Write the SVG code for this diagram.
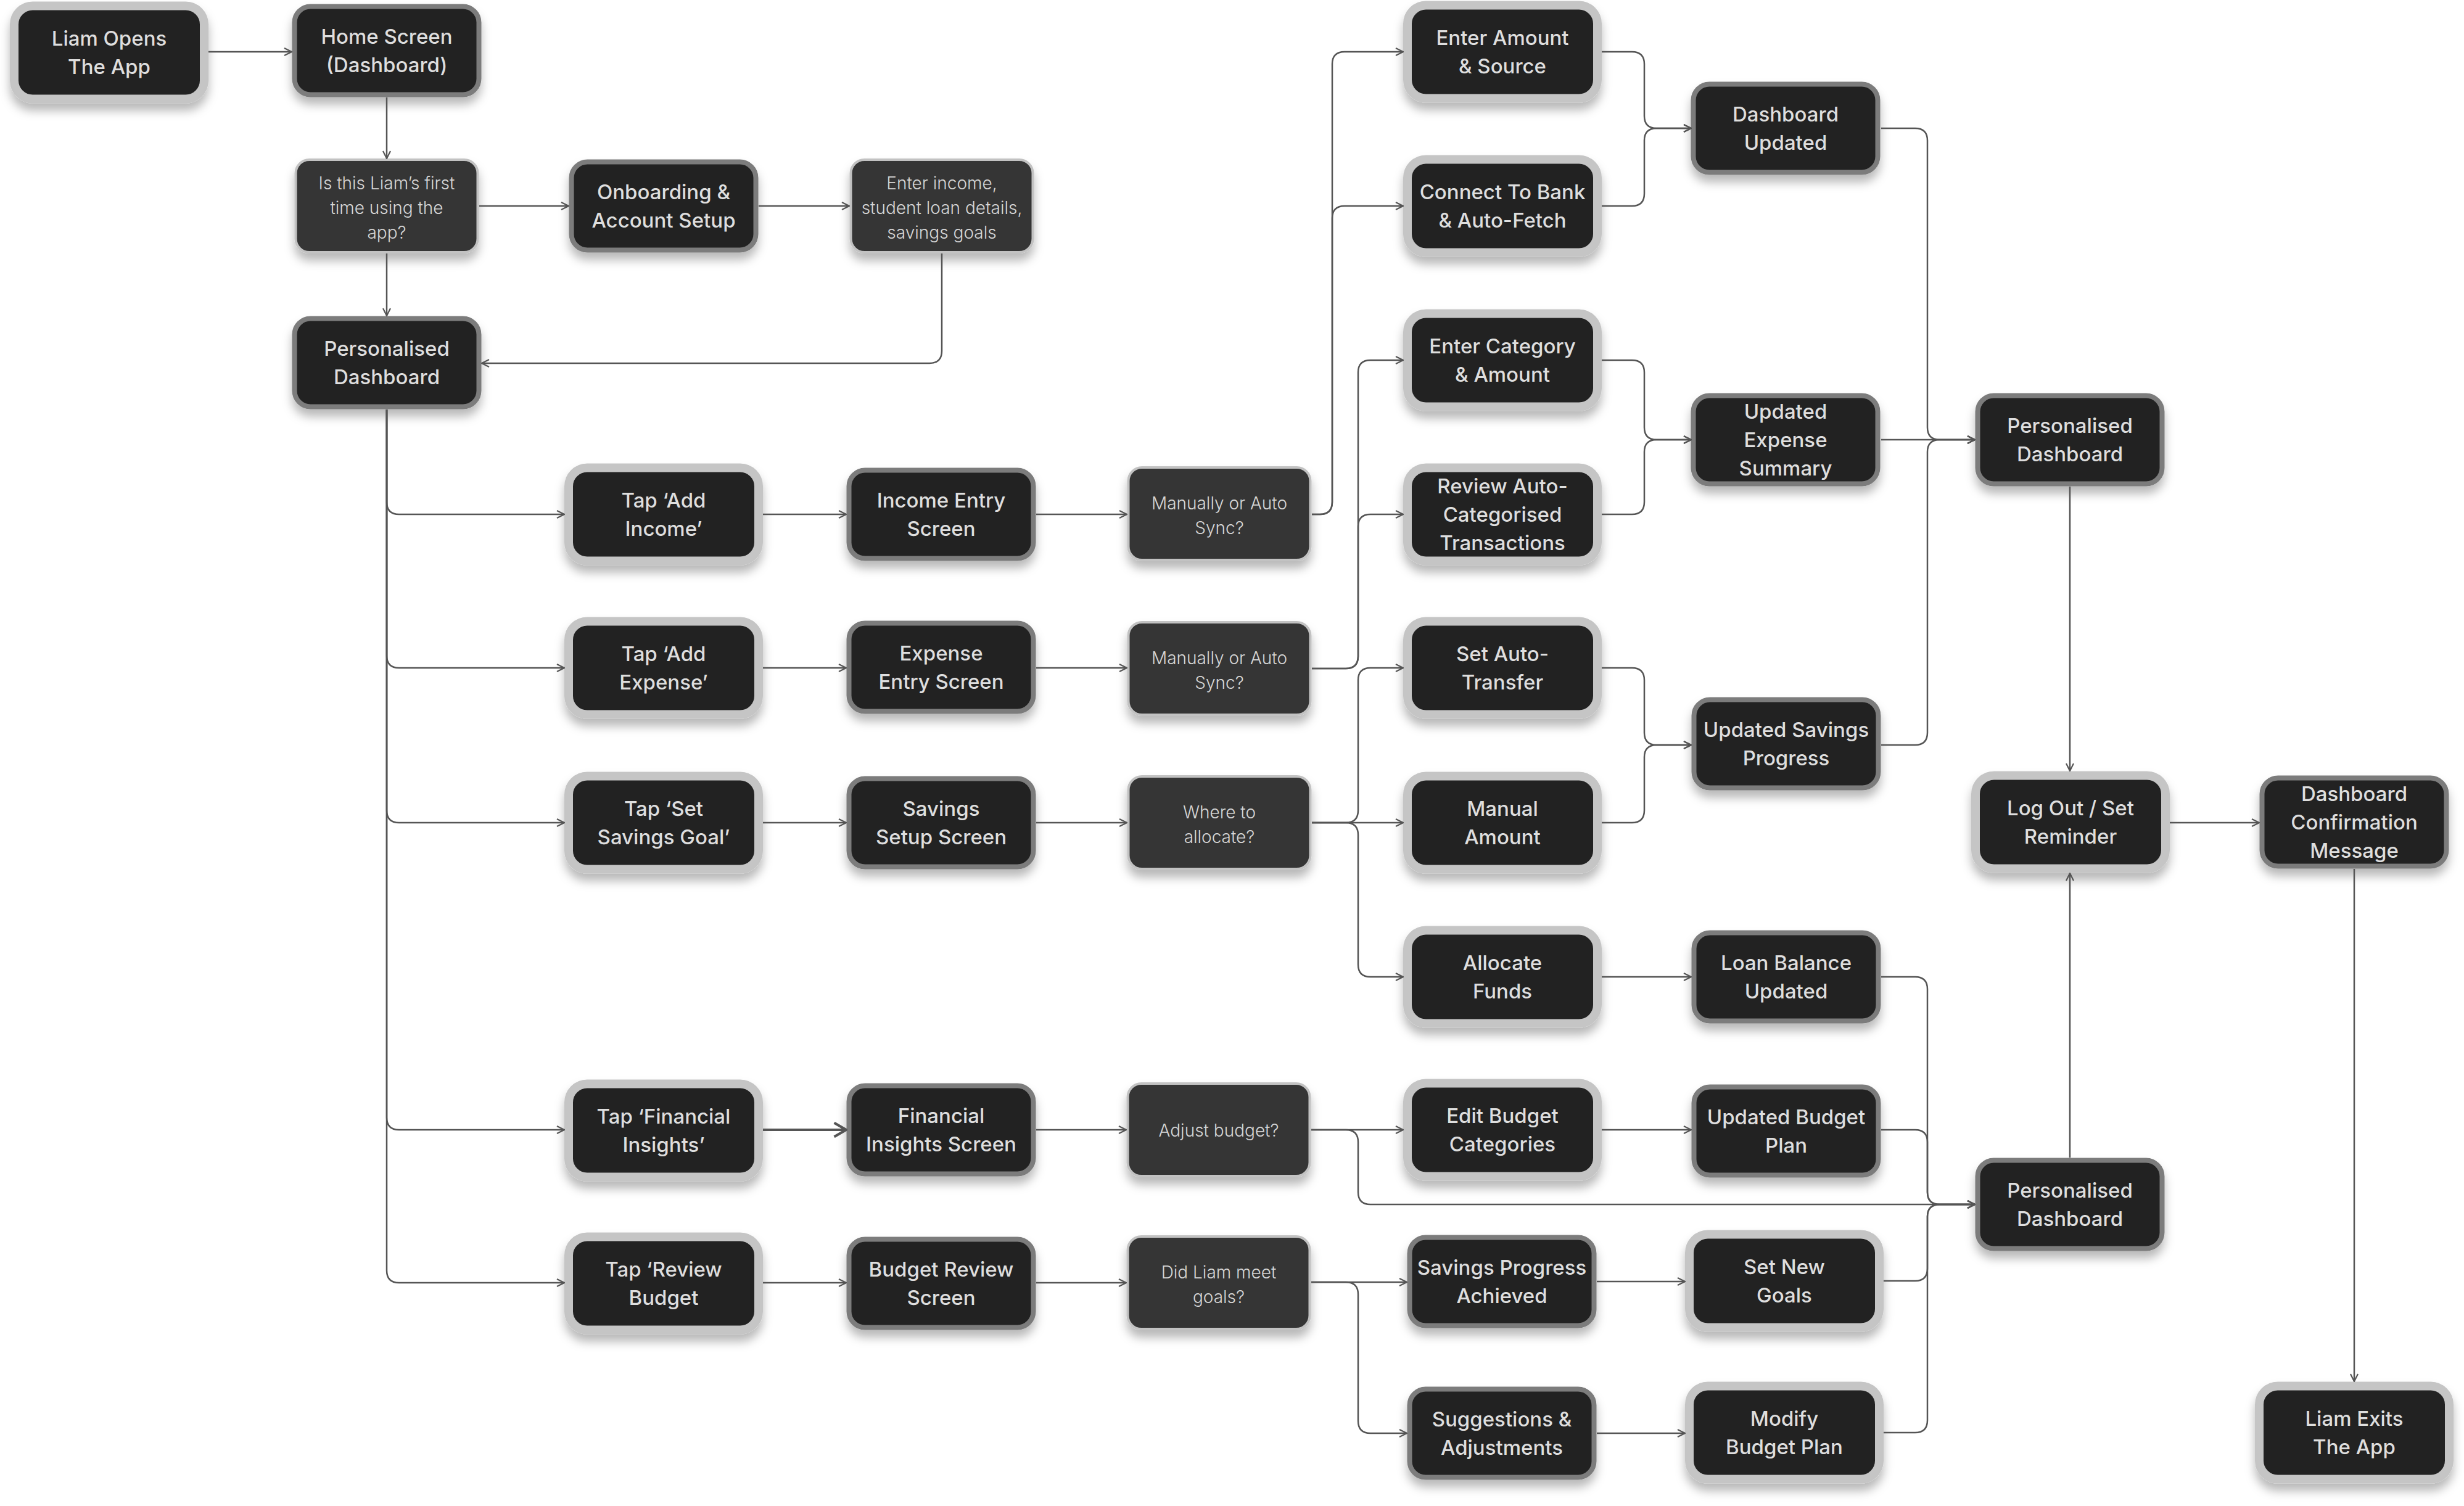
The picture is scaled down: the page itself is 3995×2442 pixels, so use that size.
<svg xmlns="http://www.w3.org/2000/svg" width="3995" height="2442" viewBox="0 0 3995 2442">
<defs>
<style>
.n1 rect{fill:#242424;stroke:#c5c5c5;stroke-width:14}
.n2 rect{fill:#242424;stroke:#7b7b7b;stroke-width:8}
.n3 rect{fill:#363636;stroke:#c2c2c2;stroke-width:4}
.n1 rect,.n2 rect,.n3 rect{filter:url(#sh)}
text{font-family:Inter,'Noto Sans','Liberation Sans',sans-serif;text-anchor:middle}
.t{font-size:33px;font-weight:500;fill:#dedede}
.d{font-size:28px;font-weight:300;fill:#d6d6d6}
.c path{fill:none;stroke:#555;stroke-width:2.5;marker-end:url(#arr)}
.c path.b{stroke-width:4;marker-end:url(#arrB)}
</style>
<filter id="sh" x="-10%" y="-10%" width="120%" height="140%">
<feDropShadow dx="0" dy="12" stdDeviation="8" flood-color="#000" flood-opacity="0.28"/>
</filter>
<marker id="arr" viewBox="0 0 16 16" refX="15" refY="8" markerWidth="16" markerHeight="16" orient="auto" markerUnits="userSpaceOnUse">
<path d="M3,2 L15,8 L3,14" fill="none" stroke="#555" stroke-width="2.2"/>
</marker>
<marker id="arrB" viewBox="0 0 16 16" refX="15" refY="8" markerWidth="26" markerHeight="26" orient="auto" markerUnits="userSpaceOnUse">
<path d="M3,1 L15,8 L3,15" fill="none" stroke="#555" stroke-width="2.5"/>
</marker>
</defs>
<rect width="3995" height="2442" fill="#fff"/>

<g id="nodes">
<!-- style 1 -->
<g id="n_liamopens" class="n1"><rect x="23" y="9.5" width="308" height="151" rx="30"/><text class="t"><tspan x="177" y="74">Liam Opens</tspan><tspan x="177" y="120">The App</tspan></text></g>
<g id="n_enteramount" class="n1"><rect x="2282" y="8.5" width="308" height="151" rx="30"/><text class="t"><tspan x="2436" y="73">Enter Amount</tspan><tspan x="2436" y="119">&amp; Source</tspan></text></g>
<g id="n_connect" class="n1"><rect x="2282" y="258.5" width="308" height="151" rx="30"/><text class="t"><tspan x="2436" y="323">Connect To Bank</tspan><tspan x="2436" y="369">&amp; Auto-Fetch</tspan></text></g>
<g id="n_entercat" class="n1"><rect x="2282" y="508.5" width="308" height="151" rx="30"/><text class="t"><tspan x="2436" y="573">Enter Category</tspan><tspan x="2436" y="619">&amp; Amount</tspan></text></g>
<g id="n_review" class="n1"><rect x="2282" y="758.5" width="308" height="151" rx="30"/><text class="t"><tspan x="2436" y="800">Review Auto-</tspan><tspan x="2436" y="846">Categorised</tspan><tspan x="2436" y="892">Transactions</tspan></text></g>
<g id="n_setauto" class="n1"><rect x="2282" y="1007.5" width="308" height="151" rx="30"/><text class="t"><tspan x="2436" y="1072">Set Auto-</tspan><tspan x="2436" y="1118">Transfer</tspan></text></g>
<g id="n_manual" class="n1"><rect x="2282" y="1258.5" width="308" height="151" rx="30"/><text class="t"><tspan x="2436" y="1323">Manual</tspan><tspan x="2436" y="1369">Amount</tspan></text></g>
<g id="n_allocate" class="n1"><rect x="2282" y="1508.5" width="308" height="151" rx="30"/><text class="t"><tspan x="2436" y="1573">Allocate</tspan><tspan x="2436" y="1619">Funds</tspan></text></g>
<g id="n_editbudget" class="n1"><rect x="2282" y="1756.5" width="308" height="151" rx="30"/><text class="t"><tspan x="2436" y="1821">Edit Budget</tspan><tspan x="2436" y="1867">Categories</tspan></text></g>
<g id="n_setnewgoals" class="n1"><rect x="2739" y="2001.5" width="308" height="151" rx="30"/><text class="t"><tspan x="2893" y="2066">Set New</tspan><tspan x="2893" y="2112">Goals</tspan></text></g>
<g id="n_modify" class="n1"><rect x="2739" y="2247.5" width="308" height="151" rx="30"/><text class="t"><tspan x="2893" y="2312">Modify</tspan><tspan x="2893" y="2358">Budget Plan</tspan></text></g>
<g id="n_tapincome" class="n1"><rect x="922" y="758.5" width="308" height="151" rx="30"/><text class="t"><tspan x="1076" y="823">Tap ‘Add</tspan><tspan x="1076" y="869">Income’</tspan></text></g>
<g id="n_tapexpense" class="n1"><rect x="922" y="1007.5" width="308" height="151" rx="30"/><text class="t"><tspan x="1076" y="1072">Tap ‘Add</tspan><tspan x="1076" y="1118">Expense’</tspan></text></g>
<g id="n_tapsavings" class="n1"><rect x="922" y="1258.5" width="308" height="151" rx="30"/><text class="t"><tspan x="1076" y="1323">Tap ‘Set</tspan><tspan x="1076" y="1369">Savings Goal’</tspan></text></g>
<g id="n_tapfin" class="n1"><rect x="922" y="1757.5" width="308" height="151" rx="30"/><text class="t"><tspan x="1076" y="1822">Tap ‘Financial</tspan><tspan x="1076" y="1868">Insights’</tspan></text></g>
<g id="n_tapreview" class="n1"><rect x="922" y="2005.5" width="308" height="151" rx="30"/><text class="t"><tspan x="1076" y="2070">Tap ‘Review</tspan><tspan x="1076" y="2116">Budget</tspan></text></g>
<g id="n_logout" class="n1"><rect x="3203" y="1257.5" width="308" height="151" rx="30"/><text class="t"><tspan x="3357" y="1322">Log Out / Set</tspan><tspan x="3357" y="1368">Reminder</tspan></text></g>
<g id="n_liamexits" class="n1"><rect x="3663" y="2247.5" width="308" height="151" rx="30"/><text class="t"><tspan x="3817" y="2312">Liam Exits</tspan><tspan x="3817" y="2358">The App</tspan></text></g>

<!-- style 2 -->
<g id="n_home" class="n2"><rect x="477.5" y="10.5" width="299" height="143" rx="26"/><text class="t"><tspan x="627" y="71">Home Screen</tspan><tspan x="627" y="117">(Dashboard)</tspan></text></g>
<g id="n_onboard" class="n2"><rect x="926.5" y="262.5" width="299" height="143" rx="26"/><text class="t"><tspan x="1076" y="323">Onboarding &amp;</tspan><tspan x="1076" y="369">Account Setup</tspan></text></g>
<g id="n_pdash1" class="n2"><rect x="477.5" y="516.5" width="299" height="143" rx="26"/><text class="t"><tspan x="627" y="577">Personalised</tspan><tspan x="627" y="623">Dashboard</tspan></text></g>
<g id="n_incomescreen" class="n2"><rect x="1376.5" y="762.5" width="299" height="143" rx="26"/><text class="t"><tspan x="1526" y="823">Income Entry</tspan><tspan x="1526" y="869">Screen</tspan></text></g>
<g id="n_expensescreen" class="n2"><rect x="1376.5" y="1010.5" width="299" height="143" rx="26"/><text class="t"><tspan x="1526" y="1071">Expense</tspan><tspan x="1526" y="1117">Entry Screen</tspan></text></g>
<g id="n_savingsscreen" class="n2"><rect x="1376.5" y="1262.5" width="299" height="143" rx="26"/><text class="t"><tspan x="1526" y="1323">Savings</tspan><tspan x="1526" y="1369">Setup Screen</tspan></text></g>
<g id="n_finscreen" class="n2"><rect x="1376.5" y="1760.5" width="299" height="143" rx="26"/><text class="t"><tspan x="1526" y="1821">Financial</tspan><tspan x="1526" y="1867">Insights Screen</tspan></text></g>
<g id="n_budgetscreen" class="n2"><rect x="1376.5" y="2009.5" width="299" height="143" rx="26"/><text class="t"><tspan x="1526" y="2070">Budget Review</tspan><tspan x="1526" y="2116">Screen</tspan></text></g>
<g id="n_dashupdated" class="n2"><rect x="2745.5" y="136.5" width="299" height="143" rx="26"/><text class="t"><tspan x="2895" y="197">Dashboard</tspan><tspan x="2895" y="243">Updated</tspan></text></g>
<g id="n_expsummary" class="n2"><rect x="2745.5" y="641.5" width="299" height="143" rx="26"/><text class="t"><tspan x="2895" y="679">Updated</tspan><tspan x="2895" y="725">Expense</tspan><tspan x="2895" y="771">Summary</tspan></text></g>
<g id="n_savprogress" class="n2"><rect x="2746.5" y="1134.5" width="299" height="143" rx="26"/><text class="t"><tspan x="2896" y="1195">Updated Savings</tspan><tspan x="2896" y="1241">Progress</tspan></text></g>
<g id="n_loan" class="n2"><rect x="2746.5" y="1512.5" width="299" height="143" rx="26"/><text class="t"><tspan x="2896" y="1573">Loan Balance</tspan><tspan x="2896" y="1619">Updated</tspan></text></g>
<g id="n_budgetplan" class="n2"><rect x="2746.5" y="1762.5" width="299" height="143" rx="26"/><text class="t"><tspan x="2896" y="1823">Updated Budget</tspan><tspan x="2896" y="1869">Plan</tspan></text></g>
<g id="n_spa" class="n2"><rect x="2285.5" y="2006.5" width="299" height="143" rx="26"/><text class="t"><tspan x="2435" y="2067">Savings Progress</tspan><tspan x="2435" y="2113">Achieved</tspan></text></g>
<g id="n_suggest" class="n2"><rect x="2285.5" y="2252.5" width="299" height="143" rx="26"/><text class="t"><tspan x="2435" y="2313">Suggestions &amp;</tspan><tspan x="2435" y="2359">Adjustments</tspan></text></g>
<g id="n_pdash2" class="n2"><rect x="3206.5" y="641.5" width="299" height="143" rx="26"/><text class="t"><tspan x="3356" y="702">Personalised</tspan><tspan x="3356" y="748">Dashboard</tspan></text></g>
<g id="n_pdash3" class="n2"><rect x="3206.5" y="1881.5" width="299" height="143" rx="26"/><text class="t"><tspan x="3356" y="1942">Personalised</tspan><tspan x="3356" y="1988">Dashboard</tspan></text></g>
<g id="n_confirm" class="n2"><rect x="3667.5" y="1261.5" width="299" height="143" rx="26"/><text class="t"><tspan x="3817" y="1299">Dashboard</tspan><tspan x="3817" y="1345">Confirmation</tspan><tspan x="3817" y="1391">Message</tspan></text></g>

<!-- style 3 decisions -->
<g id="n_first" class="n3"><rect x="479.5" y="259" width="295" height="150" rx="22"/><text class="d"><tspan x="627" y="307">Is this Liam’s first</tspan><tspan x="627" y="347">time using the</tspan><tspan x="627" y="387">app?</tspan></text></g>
<g id="n_enterincome" class="n3"><rect x="1379.5" y="259" width="295" height="150" rx="22"/><text class="d"><tspan x="1527" y="307">Enter income,</tspan><tspan x="1527" y="347">student loan details,</tspan><tspan x="1527" y="387">savings goals</tspan></text></g>
<g id="n_sync1" class="n3"><rect x="1829.5" y="758" width="295" height="150" rx="22"/><text class="d"><tspan x="1977" y="826">Manually or Auto</tspan><tspan x="1977" y="866">Sync?</tspan></text></g>
<g id="n_sync2" class="n3"><rect x="1829.5" y="1009" width="295" height="150" rx="22"/><text class="d"><tspan x="1977" y="1077">Manually or Auto</tspan><tspan x="1977" y="1117">Sync?</tspan></text></g>
<g id="n_where" class="n3"><rect x="1829.5" y="1259" width="295" height="150" rx="22"/><text class="d"><tspan x="1977" y="1327">Where to</tspan><tspan x="1977" y="1367">allocate?</tspan></text></g>
<g id="n_adjust" class="n3"><rect x="1828.5" y="1757" width="295" height="150" rx="22"/><text class="d"><tspan x="1976" y="1843">Adjust budget?</tspan></text></g>
<g id="n_didmeet" class="n3"><rect x="1828.5" y="2005" width="295" height="150" rx="22"/><text class="d"><tspan x="1976" y="2073">Did Liam meet</tspan><tspan x="1976" y="2113">goals?</tspan></text></g>
</g>

<g id="connectors" class="c">
<path d="M338 84 H473"/>
<path d="M627 158 V257"/>
<path d="M627 411 V512"/>
<path d="M777 334 H922"/>
<path d="M1230 334 H1377"/>
<path d="M1527 411 V569 Q1527 589 1507 589 H781"/>
<path d="M627 664 V814 Q627 834 647 834 H915"/>
<path d="M627 664 V1063 Q627 1083 647 1083 H915"/>
<path d="M627 664 V1314 Q627 1334 647 1334 H915"/>
<path d="M627 664 V1812 Q627 1832 647 1832 H915"/>
<path d="M627 664 V2060 Q627 2080 647 2080 H915"/>
<path d="M1237 834 H1372"/>
<path d="M1237 1083 H1372"/>
<path d="M1237 1334 H1372"/>
<path class="b" d="M1237 1832 H1372"/>
<path d="M1237 2080 H1372"/>
<path d="M1680 834 H1827"/>
<path d="M1680 1083 H1827"/>
<path d="M1680 1334 H1827"/>
<path d="M1680 1832 H1826"/>
<path d="M1680 2080 H1826"/>
<path d="M2127 834 H2140 Q2160 834 2160 814 V104 Q2160 84 2180 84 H2275"/>
<path d="M2127 834 H2140 Q2160 834 2160 814 V354 Q2160 334 2180 334 H2275"/>
<path d="M2127 1084 H2182 Q2202 1084 2202 1064 V604 Q2202 584 2222 584 H2275"/>
<path d="M2127 1084 H2182 Q2202 1084 2202 1064 V854 Q2202 834 2222 834 H2275"/>
<path d="M2127 1334 H2182 Q2202 1334 2202 1314 V1103 Q2202 1083 2222 1083 H2275"/>
<path d="M2127 1334 H2275"/>
<path d="M2127 1334 H2182 Q2202 1334 2202 1354 V1564 Q2202 1584 2222 1584 H2275"/>
<path d="M2126 1832 H2275"/>
<path d="M2126 1832 H2182 Q2202 1832 2202 1852 V1933 Q2202 1953 2222 1953 H3202"/>
<path d="M2126 2079 H2281"/>
<path d="M2126 2079 H2182 Q2202 2079 2202 2099 V2304 Q2202 2324 2222 2324 H2281"/>
<path d="M2597 84 H2646 Q2666 84 2666 104 V188 Q2666 208 2686 208 H2742"/>
<path d="M2597 334 H2646 Q2666 334 2666 314 V228 Q2666 208 2686 208 H2742"/>
<path d="M2597 584 H2646 Q2666 584 2666 604 V693 Q2666 713 2686 713 H2742"/>
<path d="M2597 834 H2646 Q2666 834 2666 814 V733 Q2666 713 2686 713 H2742"/>
<path d="M2597 1083 H2646 Q2666 1083 2666 1103 V1188 Q2666 1208 2686 1208 H2742"/>
<path d="M2597 1334 H2646 Q2666 1334 2666 1314 V1228 Q2666 1208 2686 1208 H2742"/>
<path d="M2597 1584 H2742"/>
<path d="M2597 1832 H2742"/>
<path d="M2589 2078 H2732"/>
<path d="M2589 2324 H2732"/>
<path d="M3050 208 H3105 Q3125 208 3125 228 V693 Q3125 713 3145 713 H3202"/>
<path d="M3050 713 H3202"/>
<path d="M3050 1208 H3105 Q3125 1208 3125 1188 V733 Q3125 713 3145 713 H3202"/>
<path d="M3050 1584 H3105 Q3125 1584 3125 1604 V1933 Q3125 1953 3145 1953 H3202"/>
<path d="M3050 1832 H3105 Q3125 1832 3125 1852 V1933 Q3125 1953 3145 1953 H3202"/>
<path d="M3054 2077 H3105 Q3125 2077 3125 2057 V1973 Q3125 1953 3145 1953 H3202"/>
<path d="M3054 2323 H3105 Q3125 2323 3125 2303 V1973 Q3125 1953 3145 1953 H3202"/>
<path d="M3356 789 V1250"/>
<path d="M3356 1877 V1416"/>
<path d="M3518 1334 H3663"/>
<path d="M3817 1409 V2240"/>
</g>
</svg>
